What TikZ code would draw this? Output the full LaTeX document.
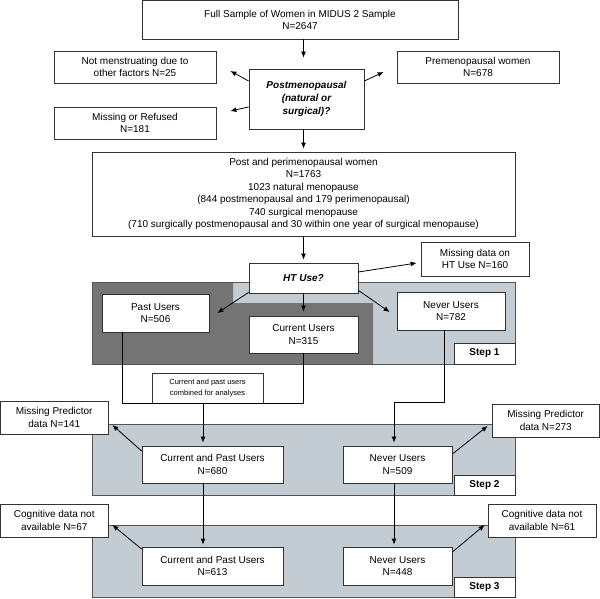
\documentclass[tikz,border=0pt]{standalone}
\usepackage{fontspec}
\setmainfont{Liberation Sans}
\usetikzlibrary{calc,arrows.meta}
\definecolor{panellight}{HTML}{C3CBD3}
\definecolor{paneldark}{HTML}{747474}
\definecolor{panelline}{HTML}{555555}
\definecolor{boxline}{HTML}{333333}
\tikzset{
  box/.style={draw=boxline, line width=0.8pt, fill=white, rectangle, align=center,
    inner sep=0pt, font=\fontsize{10}{12.5}\selectfont},
  qbox/.style={box, font=\fontsize{10}{12.8}\selectfont\bfseries\itshape},
  smallbox/.style={box, font=\fontsize{7.5}{11}\selectfont},
  stepbox/.style={box, font=\fontsize{10}{12}\selectfont\bfseries},
  panel/.style={draw=panelline, line width=0.8pt, fill=panellight},
  arr/.style={draw=black, line width=0.8pt, -{Latex[length=6pt,width=5pt]}},
  ln/.style={draw=black, line width=0.8pt}
}
\newcommand{\bx}[7][box]{% style, name, x1,y1,x2,y2, text
  \node[#1, minimum width={(#5-#3)*1pt}, minimum height={(#6-#4)*1pt}] (#2) at ({(#3+#5)/2},{(#4+#6)/2}) {#7};}
\begin{document}
\begin{tikzpicture}[x=1pt,y=-1pt]
\useasboundingbox (0,0) rectangle (600,598);
% panels
\fill[panellight] (92,282) rectangle (515,364);
\fill[paneldark] (92,282) -- (233,282) -- (233,303) -- (373,303) -- (373,364) -- (92,364) -- cycle;
\draw[panelline, line width=0.8pt] (92,282) rectangle (515,364);
\draw[panel] (92,424) rectangle (515,495);
\draw[panel] (92,525) rectangle (515,597);
% boxes
\bx{top}{142}{0.5}{458}{39}{Full Sample of Women in MIDUS 2 Sample\\N=2647}
\bx{notm}{54}{51}{216}{83}{Not menstruating due to\\other factors N=25}
\bx{pre}{397}{51}{559}{83}{Premenopausal women\\N=678}
\bx[qbox]{postq}{249}{69}{364}{129}{Postmenopausal\\(natural or\\surgical)?}
\bx{miss}{54}{107}{216}{139}{Missing or Refused\\N=181}
\bx{peri}{92}{152}{515}{236}{\fontsize{10}{12}\selectfont Post and perimenopausal women\\N=1763\\1023 natural menopause\\(844 postmenopausal and 179 perimenopausal)\\740 surgical menopause\\(710 surgically postmenopausal and 30 within one year of surgical menopause)}
\bx[qbox]{ht}{249}{263}{358}{293}{HT Use?}
\bx{htmiss}{421}{242}{529}{276}{Missing data on\\HT Use N=160}
\bx{past}{102}{294}{209}{332}{Past Users\\N=506}
\bx{cur}{249}{316}{358}{353}{Current Users\\N=315}
\bx{nev1}{397}{292}{505}{330}{Never Users\\N=782}
\bx[stepbox]{step1}{454}{343}{515}{364}{Step 1}
\bx[smallbox]{comb}{152}{373}{263}{403}{Current and past users\\combined for analyses}
\bx{cp2}{142}{446}{283}{483}{Current and Past Users\\N=680}
\bx{nev2}{343}{446}{452}{483}{Never Users\\N=509}
\bx[stepbox]{step2}{454}{475}{515}{495}{Step 2}
\bx{mp141}{0.5}{401}{108}{434}{Missing Predictor\\data N=141}
\bx{mp273}{492}{404}{599.5}{437}{Missing Predictor\\data N=273}
\bx{cp3}{142}{547}{283}{585}{Current and Past Users\\N=613}
\bx{nev3}{343}{547}{452}{585}{Never Users\\N=448}
\bx[stepbox]{step3}{454}{577}{515}{597}{Step 3}
\bx{cog67}{0.5}{504}{108}{537}{Cognitive data not\\available N=67}
\bx{cog61}{488}{504}{596}{537}{Cognitive data not\\available N=61}
% connectors
\draw[arr] (top.south -| ht.north) -- ([yshift=11pt]postq.north -| ht.north);
\draw[arr] ($(postq.west)+(0,-18)$) -- ($(notm.east)+(14,4)$);
\draw[arr] ($(postq.west)+(0,8)$) -- ($(miss.east)+(14,-12)$);
\draw[arr] ($(postq.east)+(0,-18)$) -- ($(pre.west)+(-13,5)$);
\draw[arr] (postq.south -| ht.north) -- ([yshift=3pt]peri.north -| ht.north);
\draw[arr] (peri.south -| ht.north) -- ([yshift=3pt]ht.north);
\draw[arr] ($(ht.east)+(0,-6)$) -- ($(htmiss.west)+(-4,4)$);
\draw[arr] ($(ht.south west)+(0,-1)$) -- ($(past.east)+(8,0)$);
\draw[arr] (ht.south) -- ([yshift=4pt]cur.north);
\draw[arr] ($(ht.south east)+(0,-3)$) -- ($(nev1.west)+(-7,1)$);
\draw[ln] ($(past.south)+(-33.5,0)$) |- (comb.south) -| (cur.south);
\draw[arr] ($(comb.south)+(-4.5,0)$) -- ($(cp2.north)+(-9.5,-3)$);
\draw[arr] ($(nev1.south)+(-7,0)$) |- ($(nev2.north)+(-3.5,-43)$) -- ($(nev2.north)+(-3.5,-3)$);
\draw[arr] ($(cp2.west)+(0,-13.5)$) -- ($(mp141.east)+(4,7.5)$);
\draw[arr] ($(nev2.east)+(0,-10.5)$) -- ($(mp273.west)+(-4,5.5)$);
\draw[arr] ($(cp2.south)+(-9.5,0)$) -- ($(cp3.north)+(-9.5,-2)$);
\draw[arr] ($(nev2.south)+(-3.5,0)$) -- ($(nev3.north)+(-3.5,-2)$);
\draw[arr] ($(cp3.west)+(0,-17)$) -- ($(cog67.east)+(4,4.5)$);
\draw[arr] ($(nev3.east)+(0,-14)$) -- ($(cog61.west)+(-3,4.5)$);
\end{tikzpicture}
\end{document}
